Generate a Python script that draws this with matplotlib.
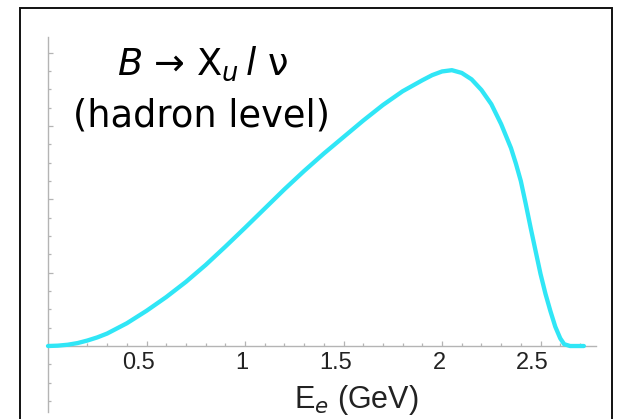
import matplotlib
matplotlib.use("Agg")
import matplotlib.pyplot as plt
import matplotlib.transforms as mtransforms
from matplotlib.patches import Rectangle
from matplotlib.ticker import FixedLocator, MultipleLocator

# electron energy spectrum (y in tick units)
energy = [0.0, 0.05, 0.1, 0.15, 0.2, 0.25, 0.3, 0.4, 0.5, 0.6, 0.7, 0.8,
          0.9, 1.0, 1.1, 1.2, 1.3, 1.4, 1.5, 1.6, 1.7, 1.8, 1.9, 1.95,
          2.0, 2.05, 2.1, 2.15, 2.2, 2.25, 2.3, 2.35, 2.375, 2.4, 2.425,
          2.45, 2.475, 2.5, 2.525, 2.55, 2.575, 2.6, 2.62, 2.65, 2.72]
rate = [0.0, 0.02, 0.07, 0.16, 0.3, 0.47, 0.68, 1.24, 1.92, 2.67, 3.5,
        4.42, 5.42, 6.45, 7.5, 8.55, 9.55, 10.5, 11.4, 12.3, 13.15, 13.9,
        14.5, 14.78, 14.98, 15.05, 14.9, 14.55, 13.97, 13.2, 12.11, 10.8,
        9.95, 9.0, 7.75, 6.44, 5.18, 3.93, 2.85, 1.91, 1.05, 0.42, 0.1,
        0.0, 0.0]

x_ticks = [0.5, 1, 1.5, 2, 2.5]
x_ticklabels = ["0.5", "1", "1.5", "2", "2.5"]

plt.rcParams.update({
    "font.family": "DejaVu Sans",
    "mathtext.fontset": "custom",
    "mathtext.rm": "DejaVu Sans",
    "mathtext.it": "DejaVu Sans:italic",
})

W, H = 628, 419
fig = plt.figure(figsize=(W / 100, H / 100), dpi=100)
ax = fig.add_axes([48 / W, 7 / H, 547.7 / W, 375 / H])

ax.plot(energy, rate, color="#30e6f6", lw=3.1,
        solid_capstyle="round", solid_joinstyle="round", clip_on=False, zorder=3)

ax.set_xlim(0, 2.78)
ax.set_ylim(-3.6, 16.86)

axis_col = "#b4b4b4"
for s in ["top", "right"]:
    ax.spines[s].set_visible(False)
ax.spines["bottom"].set_position(("data", 0))
for s in ["bottom", "left"]:
    ax.spines[s].set_color(axis_col)
    ax.spines[s].set_linewidth(1.0)

ax.xaxis.set_major_locator(FixedLocator(x_ticks))
ax.set_xticklabels(x_ticklabels)
ax.xaxis.set_minor_locator(MultipleLocator(0.1))
ax.yaxis.set_major_locator(MultipleLocator(4))
ax.yaxis.set_minor_locator(MultipleLocator(1))

ax.tick_params(which="both", direction="in", color=axis_col, width=0.9)
ax.tick_params(which="major", length=3.8)
ax.tick_params(which="minor", length=2.2)
ax.tick_params(axis="y", labelleft=False)
ax.tick_params(axis="x", labelsize=17, pad=4.5, labelcolor="#222222")
for t in ax.xaxis.get_major_ticks():
    t.label1.set_fontfamily("Liberation Sans")
    dx = -6 if "." in t.label1.get_text() else -2
    t.label1.set_transform(t.label1.get_transform() +
                           mtransforms.ScaledTranslation(dx / 72, 0, fig.dpi_scale_trans))

ax.set_xlabel(r"E$_e$ (GeV)", fontsize=22, family="Liberation Sans",
              color="#222222", va="baseline")
ax.xaxis.set_label_coords((356 - 48) / 547.7, (11 - 7) / 375)

fig.text(202 / W, (H - 75) / H, r"$B$ → $\mathrm{X}_u\,l$ ν", fontsize=26.5,
         ha="center", va="baseline", color="black")
fig.text(201.5 / W, (H - 126.7) / H, "(hadron level)", fontsize=26.5,
         ha="center", va="baseline", color="black")

# outer frame
fig.patches.append(Rectangle((20 / W, -0.05), (612 - 20) / W, (H - 8) / H + 0.05,
                             transform=fig.transFigure, fill=False,
                             edgecolor="#111111", lw=1.4))

fig.savefig("out.png", dpi=100)
